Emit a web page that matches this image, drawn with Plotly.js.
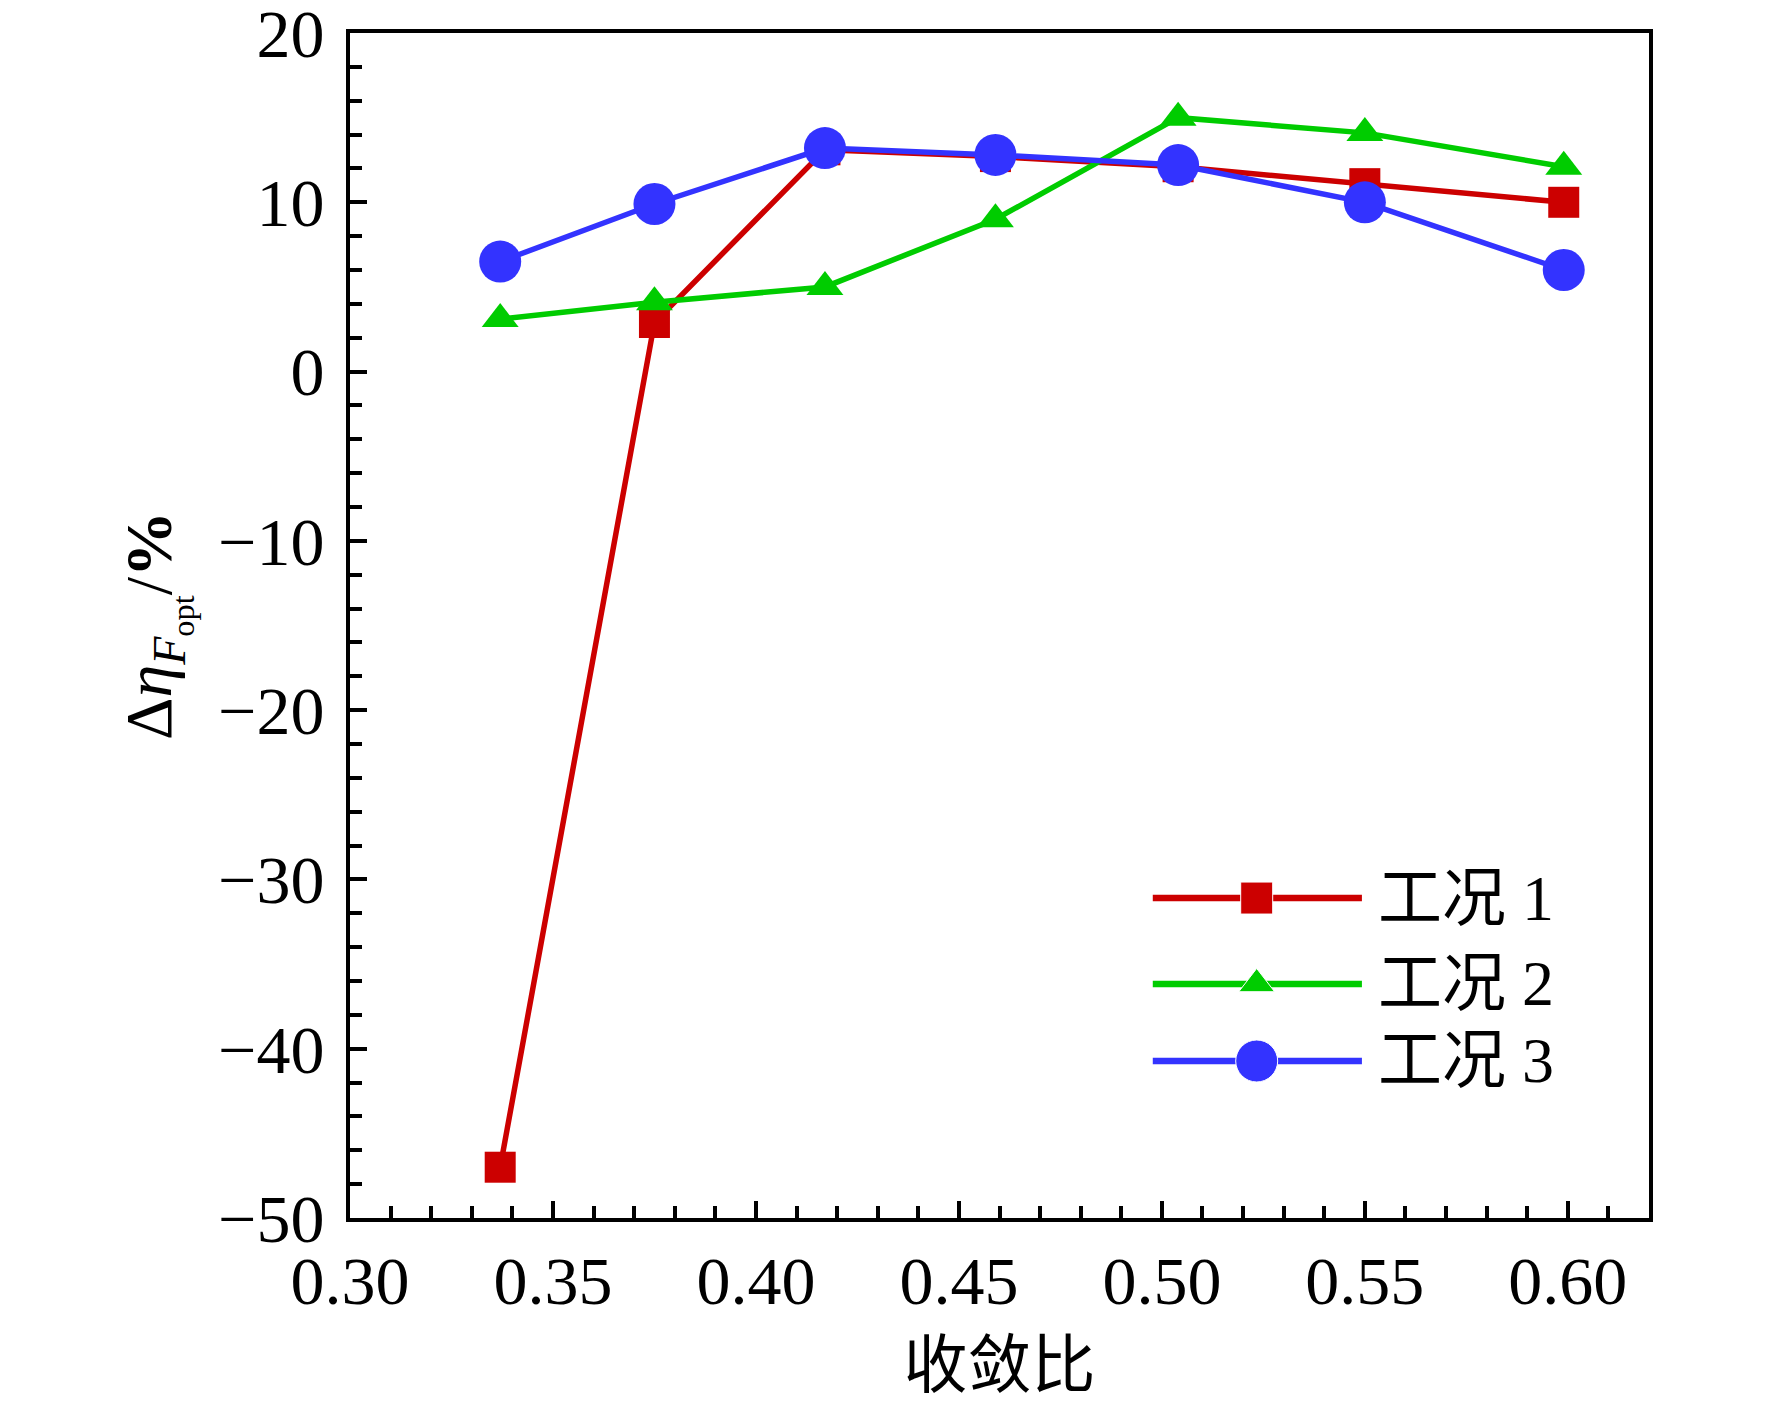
<!DOCTYPE html>
<html>
<head>
<meta charset="utf-8">
<script src="https://cdn.plot.ly/plotly-3.0.1.min.js"></script>
<style>html,body{margin:0;padding:0;background:#fff;}#chart{width:1772px;height:1401px;}</style>
</head>
<body>
<div id="chart"></div>
<script>
const convergenceRatio = [0.337, 0.375, 0.417, 0.459, 0.504, 0.550, 0.599];
const case1 = [-47.0, 2.9, 13.1, 12.7, 12.1, 11.1, 10.0];
const case2 = [3.1, 4.1, 5.0, 9.0, 15.0, 14.1, 12.1];
const case3 = [6.5, 9.9, 13.2, 12.8, 12.2, 10.0, 6.0];
const seriesNames = ['工况 1', '工况 2', '工况 3'];
const xTickVals = [0.30, 0.35, 0.40, 0.45, 0.50, 0.55, 0.60];
const yTickVals = [-50, -40, -30, -20, -10, 0, 10, 20];

const FONT = '"Liberation Serif", "Times New Roman", "Noto Sans CJK SC", serif';
const colors = ['#CC0000', '#00CC00', '#3333FF'];
const symbols = ['square', 'triangle-up', 'circle'];
const sizes = [31, 32, 42];
const legendSizes = [32, 31, 42];
const seriesData = [case1, case2, case3];

const traces = seriesData.map((ys, i) => ({
  x: convergenceRatio, y: ys, name: seriesNames[i], type: 'scatter', mode: 'lines+markers',
  line: {color: colors[i], width: 5.5}, marker: {symbol: symbols[i], size: sizes[i], color: colors[i]},
  showlegend: false
}));

// Custom legend (drawn on an overlay axis spanning the plot area, 0..1)
const legendRowsY = [0.270, 0.1975, 0.1325];
const legendX0 = 0.618, legendX1 = 0.779, legendXm = 0.698, legendTextX = 0.790;
const annotations = [];
seriesNames.forEach((nm, i) => {
  traces.push({
    x: [legendX0, legendXm, legendX1], y: [legendRowsY[i], legendRowsY[i], legendRowsY[i]],
    xaxis: 'x2', yaxis: 'y2', type: 'scatter', mode: 'lines+markers', showlegend: false,
    hoverinfo: 'skip',
    line: {color: colors[i], width: 6.5},
    marker: {symbol: symbols[i], size: [0, legendSizes[i], 0], color: colors[i], opacity: 1}
  });
  annotations.push({
    xref: 'paper', yref: 'paper', x: legendTextX, y: legendRowsY[i],
    xanchor: 'left', yanchor: 'middle', showarrow: false, text: nm,
    font: {family: FONT, size: 64, color: '#000'}
  });
});

const layout = {
  width: 1772, height: 1401,
  margin: {l: 350, r: 123, t: 33, b: 183},
  paper_bgcolor: '#fff', plot_bgcolor: '#fff',
  font: {family: FONT, size: 68, color: '#000'},
  showlegend: false,
  annotations: annotations,
  xaxis: {
    range: [0.30, 0.62], tickvals: xTickVals, tickformat: '.2f',
    ticks: 'inside', ticklen: 17, tickwidth: 4, tickcolor: '#000',
    minor: {dtick: 0.01, ticks: 'inside', ticklen: 12, tickwidth: 4, tickcolor: '#000', showgrid: false},
    showline: true, linewidth: 4, linecolor: '#000', mirror: true,
    showgrid: false, zeroline: false, ticklabeloverflow: 'allow',
    tickfont: {family: FONT, size: 68},
    title: {text: '收敛比', font: {family: FONT, size: 64}, standoff: 30}
  },
  yaxis: {
    range: [-50, 20], tickvals: yTickVals,
    ticks: 'inside', ticklen: 17, tickwidth: 4, tickcolor: '#000',
    minor: {dtick: 2, ticks: 'inside', ticklen: 12, tickwidth: 4, tickcolor: '#000', showgrid: false},
    showline: true, linewidth: 4, linecolor: '#000', mirror: true,
    showgrid: false, zeroline: false, ticklabeloverflow: 'allow', ticklabelstandoff: 8,
    tickfont: {family: FONT, size: 68},
    title: {text: 'Δ<i>η</i><sub><i>F</i><sub>opt</sub></sub>/<b>%</b>', font: {family: FONT, size: 66}, standoff: 26}
  },
  xaxis2: {overlaying: 'x', range: [0, 1], visible: false, fixedrange: true},
  yaxis2: {overlaying: 'y', range: [0, 1], visible: false, fixedrange: true}
};

Plotly.newPlot('chart', traces, layout, {displayModeBar: false, staticPlot: true});
</script>
</body>
</html>
